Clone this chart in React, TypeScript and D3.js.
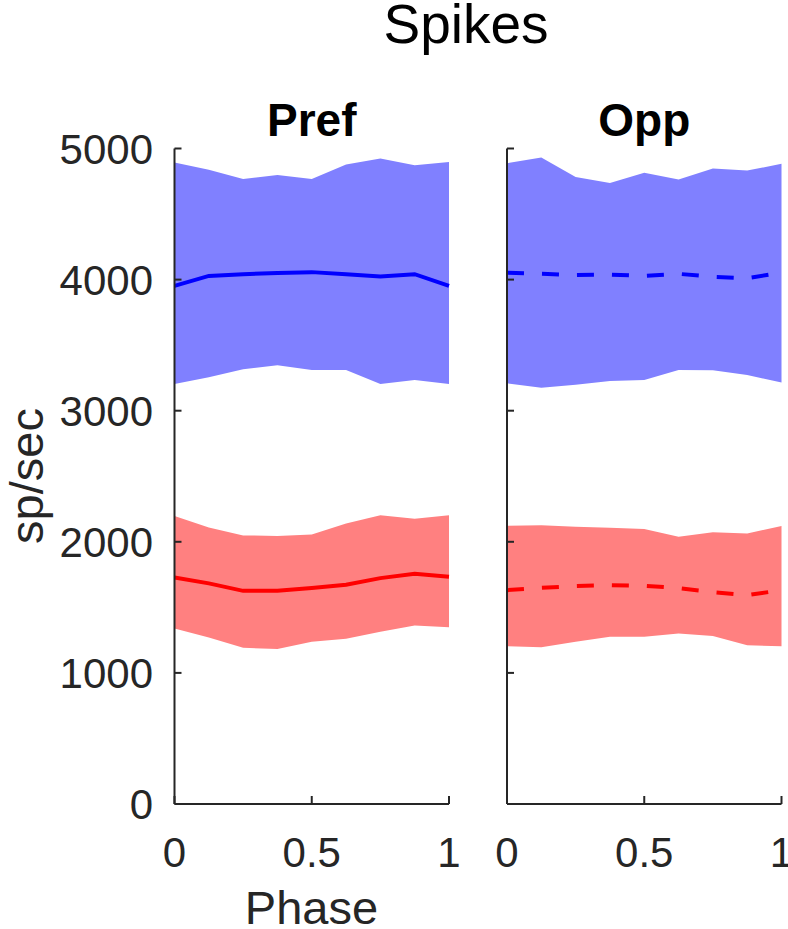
import React from "react";
import * as d3 from "d3";

const phase = [0, 0.125, 0.25, 0.375, 0.5, 0.625, 0.75, 0.875, 1];

const prefBlueUpper = [4893, 4837, 4768, 4798, 4768, 4878, 4924, 4873, 4897];
const prefBlueMean = [3952, 4028, 4041, 4051, 4057, 4041, 4023, 4041, 3952];
const prefBlueLower = [3204, 3255, 3316, 3347, 3311, 3311, 3204, 3234, 3204];

const oppBlueUpper = [4888, 4931, 4782, 4736, 4815, 4763, 4847, 4832, 4883];
const oppBlueMean = [4053, 4044, 4034, 4038, 4028, 4044, 4021, 4011, 4053];
const oppBlueLower = [3209, 3176, 3198, 3227, 3234, 3311, 3308, 3273, 3215];

const prefRedUpper = [2196, 2110, 2049, 2044, 2056, 2140, 2202, 2176, 2202];
const prefRedMean = [1728, 1683, 1626, 1626, 1647, 1672, 1723, 1756, 1733];
const prefRedLower = [1339, 1270, 1191, 1183, 1237, 1260, 1313, 1362, 1349];

const oppRedUpper = [2122, 2127, 2115, 2107, 2097, 2038, 2072, 2064, 2120];
const oppRedMean = [1631, 1649, 1662, 1669, 1664, 1647, 1616, 1593, 1631];
const oppRedLower = [1204, 1196, 1237, 1275, 1275, 1301, 1282, 1211, 1204];

const yTicks = [0, 1000, 2000, 3000, 4000, 5000];
const xTicks = [0, 0.5, 1];
const xTickLabels = ["0", "0.5", "1"];

const panels = [
  {
    title: "Pref",
    x0: 174.5,
    showY: true,
    dashed: false,
    series: [
      { upper: prefBlueUpper, mean: prefBlueMean, lower: prefBlueLower, fill: "#8080ff", line: "#0000ff" },
      { upper: prefRedUpper, mean: prefRedMean, lower: prefRedLower, fill: "#ff8080", line: "#ff0000" },
    ],
  },
  {
    title: "Opp",
    x0: 507,
    showY: false,
    dashed: true,
    series: [
      { upper: oppBlueUpper, mean: oppBlueMean, lower: oppBlueLower, fill: "#8080ff", line: "#0000ff" },
      { upper: oppRedUpper, mean: oppRedMean, lower: oppRedLower, fill: "#ff8080", line: "#ff0000" },
    ],
  },
];

const W = 788;
const H = 929;
const panelW = 274.5;
const yScale = d3.scaleLinear().domain([0, 5000]).range([804, 148.5]);
const font = "'Liberation Sans', Arial, Helvetica, sans-serif";
const axisColor = "#262626";

export default function App() {
  return (
    <svg
      width={W}
      height={H}
      style={{ position: "absolute", left: 0, top: 0, background: "#fff" }}
      fontFamily={font}
    >
      <text x={466} y={43} fontSize={55} textAnchor="middle" fill="#000">
        Spikes
      </text>
      {panels.map((p, pi) => {
        const x = d3.scaleLinear().domain([0, 1]).range([p.x0, p.x0 + panelW]);
        return (
          <g key={pi}>
            {p.series.map((s, si) => {
              const band = d3
                .area<number>()
                .x((_, i) => x(phase[i]))
                .y0((_, i) => yScale(s.lower[i]))
                .y1((d) => yScale(d));
              const line = d3
                .line<number>()
                .x((_, i) => x(phase[i]))
                .y((d) => yScale(d));
              return (
                <g key={si}>
                  <path d={band(s.upper) || ""} fill={s.fill} stroke="none" />
                  <path
                    d={line(s.mean) || ""}
                    fill="none"
                    stroke={s.line}
                    strokeWidth={4}
                    strokeDasharray={p.dashed ? "17 18" : undefined}
                  />
                </g>
              );
            })}
            <line x1={p.x0} x2={p.x0} y1={yScale(0)} y2={yScale(5000)} stroke={axisColor} strokeWidth={2} />
            <line x1={p.x0} x2={p.x0 + panelW} y1={yScale(0)} y2={yScale(0)} stroke={axisColor} strokeWidth={2} />
            {yTicks.map((t) => (
              <g key={t}>
                <line x1={p.x0} x2={p.x0 + 7} y1={yScale(t)} y2={yScale(t)} stroke={axisColor} strokeWidth={2} />
                {p.showY && (
                  <text x={153} y={yScale(t) + 15} fontSize={42} textAnchor="end" fill={axisColor}>
                    {t}
                  </text>
                )}
              </g>
            ))}
            {xTicks.map((t, i) => (
              <g key={t}>
                <line x1={x(t)} x2={x(t)} y1={yScale(0)} y2={yScale(0) - 8} stroke={axisColor} strokeWidth={2} />
                <text x={x(t)} y={867} fontSize={42} textAnchor="middle" fill={axisColor}>
                  {xTickLabels[i]}
                </text>
              </g>
            ))}
            <text
              x={p.x0 + panelW / 2}
              y={136}
              fontSize={46}
              fontWeight="bold"
              textAnchor="middle"
              fill="#000"
            >
              {p.title}
            </text>
          </g>
        );
      })}
      <text x={311.5} y={924} fontSize={47} textAnchor="middle" fill={axisColor}>
        Phase
      </text>
      <text
        transform={`translate(43, 476) rotate(-90)`}
        fontSize={47}
        textAnchor="middle"
        fill={axisColor}
      >
        sp/sec
      </text>
    </svg>
  );
}
